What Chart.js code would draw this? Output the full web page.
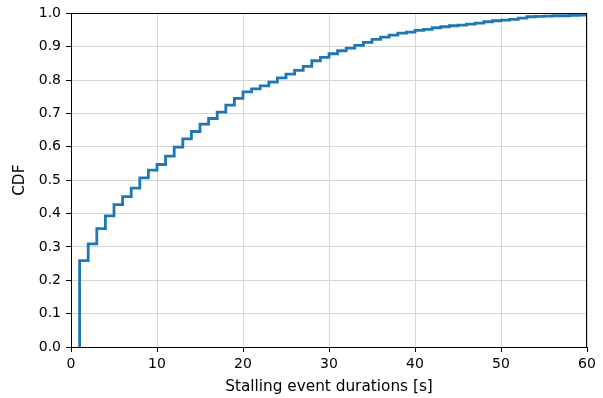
<!DOCTYPE html>
<html>
<head>
<meta charset="utf-8">
<script src="https://cdn.jsdelivr.net/npm/chart.js@4"></script>
<style>
  body { margin: 0; background: #fff; }
  #wrap { width: 603px; height: 398px; }
</style>
</head>
<body>
<div id="wrap"><canvas id="cdf-chart" width="603" height="398"></canvas></div>
<script>
// stall duration (s) where each step starts, and the CDF level from there on
const durations = [1, 1, 2, 3, 4, 5, 6, 7, 8, 9, 10, 11, 12, 13, 14, 15, 16, 17, 18, 19, 20,
  21, 22, 23, 24, 25, 26, 27, 28, 29, 30, 31, 32, 33, 34, 35, 36, 37, 38, 39, 40,
  41, 42, 43, 44, 45, 46, 47, 48, 49, 50, 51, 52, 53, 54, 55, 56, 57, 58, 59, 60];
const cdfValues = [0, 0.259, 0.309, 0.355, 0.393, 0.427, 0.451, 0.476, 0.507, 0.530, 0.547,
  0.572, 0.599, 0.624, 0.646, 0.668, 0.685, 0.704, 0.725, 0.745, 0.765,
  0.774, 0.783, 0.794, 0.807, 0.818, 0.829, 0.841, 0.858, 0.868, 0.879,
  0.888, 0.896, 0.904, 0.913, 0.922, 0.929, 0.935, 0.941, 0.944, 0.949,
  0.952, 0.957, 0.960, 0.963, 0.965, 0.968, 0.971, 0.975, 0.978, 0.980,
  0.982, 0.986, 0.990, 0.991, 0.992, 0.993, 0.993, 0.994, 0.995, 0.995];
const xTicks = [0, 10, 20, 30, 40, 50, 60];
const yTicks = [0, 0.1, 0.2, 0.3, 0.4, 0.5, 0.6, 0.7, 0.8, 0.9, 1.0];

const tickFont = { family: 'DejaVu Sans', size: 14 };
const labelFont = { family: 'DejaVu Sans', size: 15.3 };

// matplotlib style box: top and right spines
const frame = {
  id: 'frame',
  afterDraw(chart) {
    const a = chart.chartArea;
    const c = chart.ctx;
    c.save();
    c.strokeStyle = '#000';
    c.lineWidth = 1;
    c.strokeRect(Math.round(a.left) + 0.5, Math.round(a.top) + 0.5,
      Math.round(a.right - a.left) - 1, Math.round(a.bottom - a.top));
    c.restore();
  }
};

const ctx = document.getElementById('cdf-chart').getContext('2d');
new Chart(ctx, {
  type: 'line',
  data: {
    datasets: [{
      data: durations.map((d, i) => ({ x: d, y: cdfValues[i] })),
      borderColor: '#1f77b4',
      borderWidth: 2.8,
      pointRadius: 0,
      stepped: true,
      fill: false
    }]
  },
  options: {
    responsive: false,
    animation: false,
    layout: { padding: { top: 12, right: 16, left: 0, bottom: 0 } },
    plugins: { legend: { display: false }, tooltip: { enabled: false } },
    scales: {
      x: {
        type: 'linear',
        min: 0, max: 60,
        afterBuildTicks: s => { s.ticks = xTicks.map(v => ({ value: v })); },
        afterFit: s => { s.height = 51; },
        ticks: { font: tickFont, color: '#000', padding: 4, maxRotation: 0 },
        grid: { color: '#d6d6d6', tickColor: '#000', tickLength: 5, lineWidth: 1 },
        border: { color: '#000', width: 1 },
        title: { display: true, text: 'Stalling event durations [s]', font: labelFont, color: '#000', padding: { top: 2, bottom: 2 } }
      },
      y: {
        min: 0, max: 1,
        afterBuildTicks: s => { s.ticks = yTicks.map(v => ({ value: v })); },
        afterFit: s => { s.width = 71; },
        ticks: { font: tickFont, color: '#000', padding: 5, callback: v => v.toFixed(1) },
        grid: { color: '#d6d6d6', tickColor: '#000', tickLength: 5, lineWidth: 1 },
        border: { color: '#000', width: 1 },
        title: { display: true, text: 'CDF', font: labelFont, color: '#000', padding: { top: 11, bottom: 0 } }
      }
    }
  },
  plugins: [frame]
});
</script>
</body>
</html>
